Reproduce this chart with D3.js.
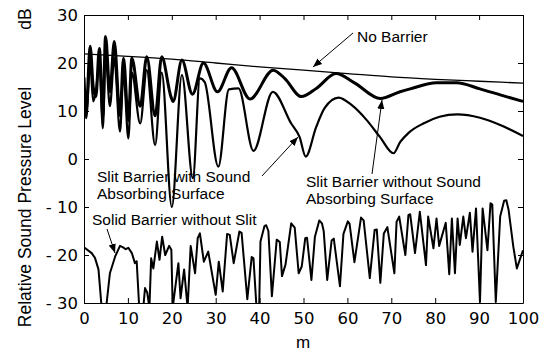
<!DOCTYPE html>
<html>
<head>
<meta charset="utf-8">
<script src="https://cdn.jsdelivr.net/npm/d3@7"></script>
<style>
  body { margin: 0; background: #fff; }
  svg { display: block; }
</style>
</head>
<body>
<div id="chart"></div>
<script>
// distance in m, level in dB
const noBarrierM  = [0, 10, 20, 30, 40, 50, 60, 70, 80, 90, 100];
const noBarrierDb = [21.9, 21.4, 20.8, 20.0, 19.2, 18.5, 17.8, 17.1, 16.6, 16.2, 15.8];

const slitPlainM  = [0, 0.5, 1.4, 2.1, 2.7, 3.5, 4.3, 4.9, 5.9, 6.9, 8.2, 9, 10.1, 10.9, 12.8, 14.3, 16.2, 17.7, 19.8, 20.3,
  22.3, 24.7, 27.2, 30.4, 33.6, 37.8, 43.1, 45.7, 49.5, 52.9, 57.4, 61.7, 67.5, 72, 74.3, 80.3, 84.9, 90.2, 95, 100];
const slitPlainDb = [17, 10, 23.5, 15, 13, 23, 9, 25.5, 14, 24.5, 9, 21, 8, 21, 11, 21.3, 9, 21.3, 13, 12,
  20.6, 13.5, 20, 14, 19, 12.5, 18.5, 16.8, 13, 14.7, 17.8, 15.8, 12.6, 14, 14.6, 15.9, 15.9, 14.6, 13.3, 12];

const slitAbsorbM  = [0, 0.5, 1.4, 2.1, 2.7, 3.5, 4.3, 4.9, 5.9, 6.9, 8.2, 9, 10.1, 10.9, 12.8, 14.3, 16.2, 17.7, 20, 22.3,
  24.8, 26.4, 27.5, 30.6, 33, 35.2, 38.6, 43, 47.2, 49.1, 50.5, 52.9, 54.8, 58, 61, 64.4, 67.4, 70.5, 72, 74, 77.3,
  81, 85, 90.2, 94.8, 100];
const slitAbsorbDb = [15, 8.5, 20, 12, 14, 20, 6.4, 22, 11, 21, 5.7, 18, 4.3, 18, 7.4, 18.5, 2.9, 18, -10, 17.5,
  -4, 16.8, 16, -1.6, 14.5, 14.7, 1.7, 14, 7.4, 4.6, 0.5, 6.7, 10.6, 12.8, 11.2, 8.1, 4.6, 1.2, 3.5, 5.5, 7.4,
  8.8, 9.3, 8.6, 7.1, 4.8];

const solidM  = [0, 1.75, 2.5, 3.3, 4.2, 4.8, 5.9, 7.1, 8.2, 8.9, 9.5, 10.1, 10.9, 11.6, 12, 12.7, 13.5, 13.9, 14.4, 14.9,
  15.3, 15.8, 16.6, 17.2, 17.8, 18.5, 19.4, 19.9, 20.2, 21.5, 22, 22.8, 23.6, 24.3, 25.3, 25.9, 26.4, 27.3, 28.3, 30,
  30.7, 31.6, 32.6, 33.2, 34.1, 35.4, 35.9, 37.2, 38.2, 38.6, 39.3, 39.9, 40.2, 41.1, 41.5, 42, 42.8, 43.9, 44.6, 45.1,
  45.9, 47.2, 48, 48.9, 49.6, 50.4, 50.8, 51.8, 52.6, 53.6, 54.2, 54.6, 55.4, 56.4, 56.9, 58.3, 59.1, 60.1, 60.5, 61.6,
  63.1, 63.7, 65.1, 66.2, 66.7, 67.5, 68.3, 69.1, 70.7, 71.2, 71.8, 73.2, 73.9, 74.3, 75.4, 76.5, 77.9, 78.4, 79.6, 80.3,
  80.9, 82.4, 83.2, 83.8, 84.5, 85.1, 85.6, 86.4, 87, 87.9, 88.5, 89.3, 90.2, 90.8, 91.9, 92.6, 93, 93.8, 94.8, 95.7,
  96.2, 96.7, 97.8, 98.6, 100];
const solidDb = [-18.4, -19.6, -20.6, -23, -33, -33, -23.8, -20.3, -18.1, -18.4, -18.8, -18.5, -19.6, -21.7, -21.3, -33, -31, -26.9, -27.8, -31,
  -20.7, -22.8, -17.2, -21, -16.2, -20, -18.1, -18.9, -31, -21.7, -29, -23, -31, -18.1, -23.8, -16.5, -15.5, -21.4, -19.3, -28.3,
  -21.4, -27.6, -15.6, -15.8, -21.7, -15.1, -15.4, -29.2, -20.4, -20.7, -31, -31, -17.2, -14, -13.8, -15, -28.6, -16.8, -17.3, -24.4,
  -22, -13.4, -14.3, -23.8, -22.4, -16.5, -16.4, -25.2, -16.2, -12.8, -13.4, -15, -25.2, -17, -16.6, -26.5, -15.6, -13, -13.5, -21.5,
  -12.2, -12.8, -24.8, -14.8, -14.7, -25.8, -15.5, -14.2, -23.8, -13.1, -12, -20, -11.7, -11.5, -19.6, -11, -22.1, -12, -18.6, -12.4,
  -18.1, -13.3, -24, -12.4, -23.8, -12.4, -17.9, -12, -16.5, -11.2, -19.3, -10.3, -29.8, -10.3, -19, -9.2, -9.5, -29.8, -12, -8.7,
  -8.6, -10.5, -18.3, -22.8, -19];

const xTicks = [0, 10, 20, 30, 40, 50, 60, 70, 80, 90, 100];
const yTicks = [-30, -20, -10, 0, 10, 20, 30];

const width = 549, height = 354;
const margin = { top: 15, right: 26, bottom: 51, left: 84 };
const w = width - margin.left - margin.right;
const h = height - margin.top - margin.bottom;

const svg = d3.select('#chart').append('svg')
  .attr('width', width)
  .attr('height', height)
  .style('font-family', '"Liberation Sans", Arial, sans-serif');

const g = svg.append('g').attr('transform', `translate(${margin.left},${margin.top})`);

const x = d3.scaleLinear().domain([0, 100]).range([0, w]);
const y = d3.scaleLinear().domain([-30, 30]).range([h, 0]);

g.append('clipPath').attr('id', 'plotClip')
  .append('rect').attr('width', w).attr('height', h);

// frame with inward ticks on all four sides
const tickLen = 5;
const axes = [
  { axis: d3.axisBottom(x), t: `translate(0,${h})`, labels: true },
  { axis: d3.axisTop(x), t: 'translate(0,0)', labels: false },
  { axis: d3.axisLeft(y), t: 'translate(0,0)', labels: true },
  { axis: d3.axisRight(y), t: `translate(${w},0)`, labels: false }
];
axes.forEach((a, i) => {
  const isX = i < 2;
  const ax = a.axis.tickValues(isX ? xTicks : yTicks)
    .tickSizeInner(-tickLen).tickSizeOuter(0)
    .tickFormat(a.labels ? (d => d < 0 ? '- ' + Math.abs(d) : d) : '');
  const sel = g.append('g').attr('transform', a.t).call(ax);
  sel.select('.domain').attr('stroke', '#000').attr('stroke-width', 1);
  sel.selectAll('.tick line').attr('stroke', '#000');
  sel.selectAll('.tick text')
    .style('font-family', '"DejaVu Sans", sans-serif')
    .style('font-size', '16.5px')
    .attr('fill', '#000');
  if (i === 0) sel.selectAll('.tick text').attr('y', 9);
  if (i === 2) sel.selectAll('.tick text').attr('x', -6);
});

const line = (curve) => d3.line()
  .x(d => x(d[0]))
  .y(d => y(d[1]))
  .curve(curve);

const plot = g.append('g').attr('clip-path', 'url(#plotClip)');

const series = [
  { m: noBarrierM, db: noBarrierDb, curve: d3.curveMonotoneX, sw: 1.3 },
  { m: slitPlainM, db: slitPlainDb, curve: d3.curveMonotoneX, sw: 3 },
  { m: slitAbsorbM, db: slitAbsorbDb, curve: d3.curveMonotoneX, sw: 2.2 },
  { m: solidM, db: solidDb, curve: d3.curveLinear, sw: 2 }
];
series.forEach(s => {
  plot.append('path')
    .datum(s.m.map((m, i) => [m, s.db[i]]))
    .attr('fill', 'none')
    .attr('stroke', '#000')
    .attr('stroke-width', s.sw)
    .attr('stroke-linejoin', 'round')
    .attr('d', line(s.curve));
});

// axis titles
svg.append('text')
  .attr('transform', 'translate(31,207) rotate(-90)')
  .attr('text-anchor', 'middle')
  .style('font-size', '17.5px')
  .text('Relative Sound Pressure Level');
svg.append('text')
  .attr('transform', 'translate(31,19) rotate(-90)')
  .attr('text-anchor', 'middle')
  .style('font-size', '17.5px')
  .text('dB');
svg.append('text')
  .attr('x', 303).attr('y', 348)
  .attr('text-anchor', 'middle')
  .style('font-size', '17px')
  .text('m');

// annotations
svg.append('defs').append('marker')
  .attr('id', 'arrow')
  .attr('viewBox', '0 0 10 10')
  .attr('refX', 10).attr('refY', 5)
  .attr('markerWidth', 9).attr('markerHeight', 9)
  .attr('markerUnits', 'userSpaceOnUse')
  .attr('orient', 'auto')
  .append('path').attr('d', 'M0,1 L10,5 L0,9 Z').attr('fill', '#000');

const notes = [
  { lines: ['No Barrier'], x: 357, y: 42, from: [353, 33], to: [313, 67] },
  { lines: ['Slit Barrier with Sound', 'Absorbing Surface'], x: 97, y: 182, from: [262, 176], to: [298, 137] },
  { lines: ['Slit Barrier without Sound', 'Absorbing Surface'], x: 306, y: 187, from: [372, 174], to: [382, 100] },
  { lines: ['Solid Barrier without Slit'], x: 92, y: 225, from: [107, 229], to: [115, 253] }
];
notes.forEach(n => {
  n.lines.forEach((l, i) => {
    svg.append('text')
      .attr('x', n.x).attr('y', n.y + i * 17)
      .style('font-size', '15.5px')
      .text(l);
  });
  svg.append('line')
    .attr('x1', n.from[0]).attr('y1', n.from[1])
    .attr('x2', n.to[0]).attr('y2', n.to[1])
    .attr('stroke', '#000').attr('stroke-width', 1)
    .attr('marker-end', 'url(#arrow)');
});
</script>
</body>
</html>
